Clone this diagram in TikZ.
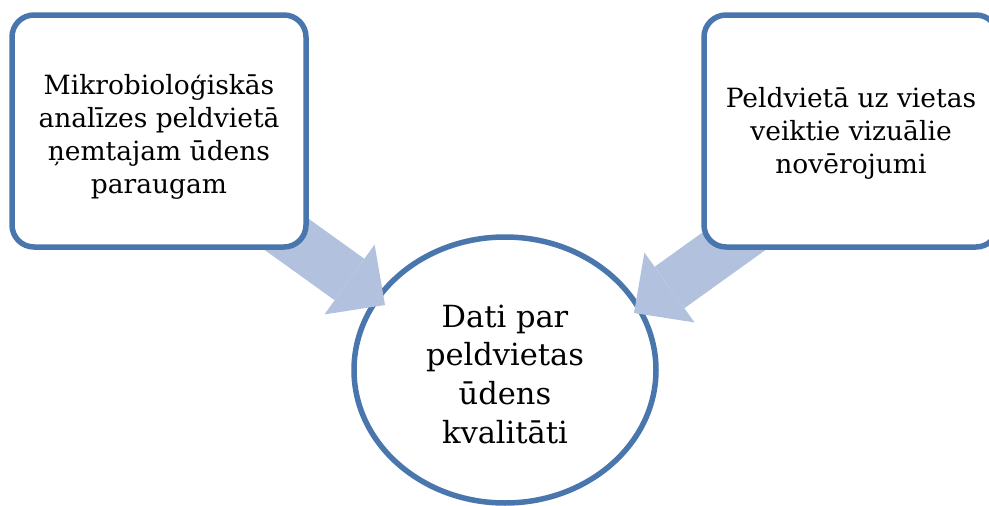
\documentclass[tikz,border=0pt]{standalone}
\usepackage{fontspec}
\setmainfont{DejaVu Serif}
\usetikzlibrary{arrows.meta,shapes.geometric}
\definecolor{edgeblue}{RGB}{74,118,174}
\definecolor{arrowblue}{RGB}{178,193,222}
\tikzset{
  box/.style={draw=edgeblue, line width=5.5pt, fill=white, rounded corners=22pt,
    minimum width=294pt, minimum height=232pt, inner sep=0pt, outer sep=0pt,
    align=center, font=\fontsize{26.5pt}{33pt}\selectfont},
  oval/.style={ellipse, draw=edgeblue, line width=5.5pt, minimum width=302pt,
    minimum height=266pt, inner sep=0pt, outer sep=0pt, align=center,
    font=\fontsize{30.5pt}{38.7pt}\selectfont},
  bigarrow/.style={draw=arrowblue, line width=51pt,
    -{Triangle[length=43.7pt,width=86pt,line width=0pt]}}
}
\begin{document}
\begin{tikzpicture}[x=1pt,y=-1pt]
\useasboundingbox (0,0) rectangle (989,506);
\clip (0,0) rectangle (989,506);
\node[oval] (circ) at (505,370) {\rule{0pt}{31pt}Dati par\\peldvietas\\ūdens\\kvalitāti};
\coordinate (s1) at (222.6,188.4);
\coordinate (t1) at (385,305);
\coordinate (s2) at (796.4,196.4);
\coordinate (t2) at (634,313);
\draw[bigarrow] (s1) -- (t1);
\draw[bigarrow] (s2) -- (t2);
\node[box] (b1) at (159,131) {\rule{0pt}{31pt}Mikrobioloģiskās\\analīzes peldvietā\\ņemtajam ūdens\\paraugam};
\node[box] (b2) at (851,131) {\rule{0pt}{25pt}Peldvietā uz vietas\\veiktie vizuālie\\novērojumi};
\end{tikzpicture}
\end{document}
